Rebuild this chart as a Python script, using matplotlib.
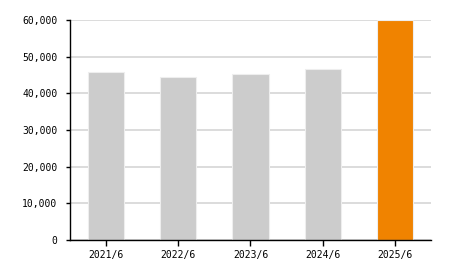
import matplotlib
matplotlib.use("Agg")
import matplotlib.pyplot as plt
from matplotlib.ticker import FuncFormatter

periods = ["2021/6", "2022/6", "2023/6", "2024/6", "2025/6"]
values = [45800, 44400, 45300, 46500, 60000]
colors = ["#cccccc", "#cccccc", "#cccccc", "#cccccc", "#f08300"]

plt.rcParams["font.family"] = ["DejaVu Sans Mono"]

fig = plt.figure(figsize=(4.5, 2.7), dpi=100)
ax = fig.add_axes([0.1556, 0.111, 0.802, 0.815])

ax.bar(range(len(periods)), values, width=0.5, color=colors,
       edgecolor="#eeeeee", linewidth=0.8, zorder=2)

ax.set_xlim(-0.5, len(periods) - 0.5)
ax.set_ylim(0, 60000)
ax.set_yticks(range(0, 60001, 10000))
ax.yaxis.set_major_formatter(FuncFormatter(lambda v, p: f"{int(v):,}"))
ax.set_xticks(range(len(periods)))
ax.set_xticklabels(periods)

ax.grid(axis="y", color="#d9d9d9", linewidth=1.3, zorder=0)
ax.set_axisbelow(True)

for side in ("top", "right"):
    ax.spines[side].set_visible(False)
for side in ("left", "bottom"):
    ax.spines[side].set_color("black")
    ax.spines[side].set_linewidth(1.0)

ax.tick_params(axis="y", length=3, width=1, pad=6, labelsize=7)
ax.tick_params(axis="x", length=4, width=1, pad=3, labelsize=7)

fig.savefig("out.png", dpi=100)
